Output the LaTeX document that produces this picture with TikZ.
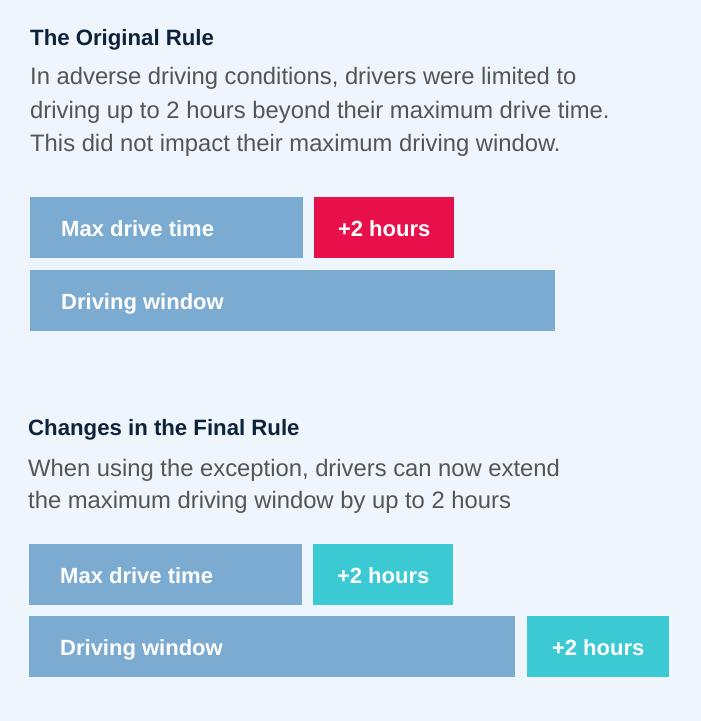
\documentclass[tikz,border=0pt]{standalone}
\usepackage{fontspec}
\setmainfont{Liberation Sans}
\begin{document}
\begin{tikzpicture}[x=1pt,y=-1pt,
  bar/.style={draw=none, inner sep=0pt, anchor=north west, minimum height=61pt},
  bluebar/.style={bar, fill=barblue},
  redbar/.style={bar, fill=barred},
  cyanbar/.style={bar, fill=barcyan},
  bartext/.style={inner sep=0pt, anchor=base west, text=white, font=\fontsize{22}{26}\selectfont\bfseries},
  hourtext/.style={inner sep=0pt, anchor=base, text=white, font=\fontsize{22}{26}\selectfont\bfseries},
  title/.style={inner sep=0pt, anchor=base west, text=titlecol, font=\fontsize{22.2}{26}\selectfont\bfseries},
  body/.style={inner sep=0pt, anchor=base west, text=bodycol, font=\fontsize{23.8}{28}\selectfont},
]
\definecolor{bg}{HTML}{EFF5FD}
\definecolor{barblue}{HTML}{7BABD0}
\definecolor{barred}{HTML}{E8104A}
\definecolor{barcyan}{HTML}{3BCAD3}
\definecolor{titlecol}{HTML}{0E2239}
\definecolor{bodycol}{HTML}{555555}
\fill[bg] (0,0) rectangle (701,721);
\useasboundingbox (0,0) rectangle (701,721);

% Section 1
\node[title] (t1) at (30,45) {The Original Rule};
\node[body] (b1a) at (30,84) {In adverse driving conditions, drivers were limited to};
\node[body] (b1b) at (30,118) {driving up to 2 hours beyond their maximum drive time.};
\node[body] (b1c) at (30,151) {This did not impact their maximum driving window.};

\node[bluebar, minimum width=273pt] (m1) at (30,197) {};
\node[bartext] (m1t) at ([xshift=31pt,yshift=-8.5pt]m1.west) {Max drive time};
\node[redbar, minimum width=140pt] (h1) at (314,197) {};
\node[hourtext] (h1t) at ([yshift=-8.5pt]h1.center) {+2 hours};
\node[bluebar, minimum width=525pt] (d1) at (30,270) {};
\node[bartext] (d1t) at ([xshift=31pt,yshift=-8.5pt]d1.west) {Driving window};

% Section 2
\node[title] (t2) at (28,435) {Changes in the Final Rule};
\node[body] (b2a) at (28,476) {When using the exception, drivers can now extend};
\node[body] (b2b) at (28,508) {the maximum driving window by up to 2 hours};

\node[bluebar, minimum width=273pt] (m2) at (29,544) {};
\node[bartext] (m2t) at ([xshift=31pt,yshift=-8.5pt]m2.west) {Max drive time};
\node[cyanbar, minimum width=140pt] (h2) at (313,544) {};
\node[hourtext] (h2t) at ([yshift=-8.5pt]h2.center) {+2 hours};
\node[bluebar, minimum width=486pt] (d2) at (29,616) {};
\node[bartext] (d2t) at ([xshift=31pt,yshift=-8.5pt]d2.west) {Driving window};
\node[cyanbar, minimum width=142pt] (h3) at (527,616) {};
\node[hourtext] (h3t) at ([yshift=-8.5pt]h3.center) {+2 hours};
\end{tikzpicture}
\end{document}
